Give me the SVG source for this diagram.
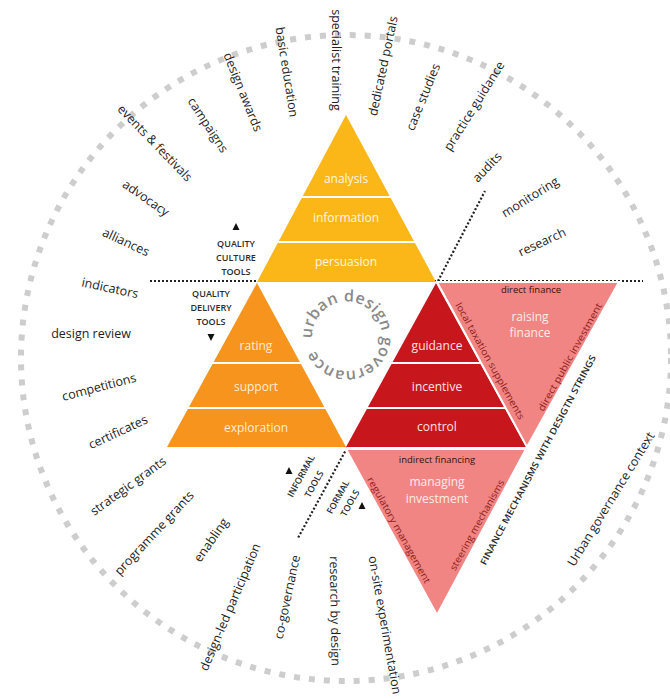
<svg xmlns="http://www.w3.org/2000/svg" width="670" height="699" viewBox="0 0 670 699">
<defs>
<style>
.lbl{font-family:"Open Sans","DejaVu Sans",sans-serif;font-size:12.5px;fill:#1e1e1e;text-anchor:middle;font-weight:500}
.band{font-family:"Open Sans","DejaVu Sans",sans-serif;font-size:12px;text-anchor:middle;font-weight:500}
.yb{fill:#fff6e0}
.ob{fill:#ffedd6}
.rb{fill:#fde2e2}
.pk{fill:#fdeceb;font-family:"Open Sans","DejaVu Sans",sans-serif;font-size:12px;text-anchor:middle;font-weight:500}
.small{font-family:"Open Sans","DejaVu Sans",sans-serif;font-size:9.5px;text-anchor:middle}
.edge{fill:#8e1c1c}
.dark{fill:#3a1010}
.caps{font-family:"Open Sans","DejaVu Sans",sans-serif;font-size:9px;font-weight:600;fill:#2b2b2b;text-anchor:middle}
.sep{stroke:#ffffff;stroke-width:2.2}
.dot{fill:none;stroke:#222;stroke-width:2.2;stroke-dasharray:2 2}
</style>
<path id="ring" d="M312.09,338.44 A35,35 0 0 1 381.91,333.56 A35,35 0 0 1 313.91,347.39"/>
</defs>
<rect width="670" height="699" fill="#ffffff"/>

<g id="context-circle">
<ellipse cx="346" cy="358" rx="325" ry="323" fill="none" stroke="#cdcdcd" stroke-width="6" stroke-dasharray="6 9"/>
</g>

<g id="connectors">
<line class="dot" x1="150" y1="281" x2="643" y2="281"/>
<line class="dot" x1="438" y1="281" x2="485" y2="191"/>
<line class="dot" x1="347" y1="448" x2="298" y2="538"/>
</g>

<g id="quality-culture">
<polygon points="346,115 257,282 436,282" fill="#fbb617"/>
<line class="sep" x1="300" y1="197" x2="392" y2="197"/>
<line class="sep" x1="276" y1="242" x2="416" y2="242"/>
<text class="band yb" x="346" y="183">analysis</text>
<text class="band yb" x="346" y="222">information</text>
<text class="band yb" x="346" y="266">persuasion</text>
</g>

<g id="quality-delivery">
<polygon points="257,283 167,447 346,447" fill="#f7941d"/>
<line class="sep" x1="211" y1="363" x2="302" y2="363"/>
<line class="sep" x1="186" y1="408" x2="327" y2="408"/>
<text class="band ob" x="256" y="350">rating</text>
<text class="band ob" x="256" y="391">support</text>
<text class="band ob" x="256" y="432">exploration</text>
</g>

<g id="formal-tools">
<polygon points="436,283 346,447 526,447" fill="#c8161d"/>
<line class="sep" x1="390" y1="363" x2="482" y2="363"/>
<line class="sep" x1="365" y1="408" x2="507" y2="408"/>
<text class="band rb" x="437" y="350">guidance</text>
<text class="band rb" x="437" y="391">incentive</text>
<text class="band rb" x="437" y="431">control</text>
</g>

<g id="raising-finance">
<polygon points="437,282 619,282 527,447" fill="#f08583" stroke="#ffffff" stroke-width="2"/>
<text class="small dark" x="531" y="293">direct finance</text>
<text class="pk" x="530" y="321">raising</text>
<text class="pk" x="530" y="337">finance</text>
<text class="small edge" transform="translate(490,361) rotate(61)" dy="0.35em" textLength="132" lengthAdjust="spacingAndGlyphs">local taxation supplements</text>
<text class="small edge" transform="translate(570,357) rotate(-61)" dy="0.35em" textLength="122" lengthAdjust="spacingAndGlyphs">direct public investment</text>
</g>

<g id="managing-investment">
<polygon points="346,449 526,449 437,615" fill="#f08583" stroke="#ffffff" stroke-width="2"/>
<text class="small dark" x="437" y="463">indirect financing</text>
<text class="pk" x="437" y="486">managing</text>
<text class="pk" x="437" y="503">investment</text>
<text class="small edge" transform="translate(399,530) rotate(61)" dy="0.35em" textLength="120" lengthAdjust="spacingAndGlyphs">regulatory management</text>
<text class="small edge" transform="translate(477,525) rotate(-61)" dy="0.35em" textLength="102" lengthAdjust="spacingAndGlyphs">steering mechanisms</text>
</g>

<g id="finance-mechanisms">
<text class="caps" font-weight="500" fill="#333" transform="translate(538,460) rotate(-62)" dy="0.35em" textLength="236" lengthAdjust="spacingAndGlyphs">FINANCE MECHANISMS WITH DESIGTN STRINGS</text>
</g>

<g id="governance-ring">
<text font-family="Open Sans, DejaVu Sans, sans-serif" font-size="16" fill="#8a8a8a" font-weight="600"><textPath href="#ring" textLength="206" lengthAdjust="spacing">urban design governance</textPath></text>
</g>

<g id="culture-tools-label">
<polygon points="236,223 232.5,230 239.5,230" fill="#111"/>
<text class="caps" x="236" y="247">QUALITY</text>
<text class="caps" x="236" y="261">CULTURE</text>
<text class="caps" x="236" y="275">TOOLS</text>
</g>

<g id="delivery-tools-label">
<text class="caps" x="211" y="297">QUALITY</text>
<text class="caps" x="211" y="311">DELIVERY</text>
<text class="caps" x="211" y="325">TOOLS</text>
<polygon points="207.5,334 214.5,334 211,341" fill="#111"/>
</g>

<g id="informal-tools-label">
<polygon points="289,467 285.5,474 292.5,474" fill="#111"/>
<text class="caps" font-size="8" transform="translate(301,476) rotate(-61)" dy="0.35em">INFORMAL</text>
<text class="caps" font-size="8" transform="translate(314,484) rotate(-61)" dy="0.35em">TOOLS</text>
</g>

<g id="formal-tools-label">
<text class="caps" font-size="8" transform="translate(338,497) rotate(-61)" dy="0.35em">FORMAL</text>
<text class="caps" font-size="8" transform="translate(350,503) rotate(-61)" dy="0.35em">TOOLS</text>
<polygon points="362,502 358.5,509 365.5,509" fill="#111"/>
</g>

<g id="outer-labels">
<text class="lbl" transform="translate(336,60) rotate(90)" dy="0.35em">specialist training</text>
<text class="lbl" transform="translate(287,72) rotate(81)" dy="0.35em">basic education</text>
<text class="lbl" transform="translate(243,92) rotate(68)" dy="0.35em">design awards</text>
<text class="lbl" transform="translate(208,125) rotate(57)" dy="0.35em">campaigns</text>
<text class="lbl" transform="translate(155,143) rotate(46)" dy="0.35em">events &amp; festivals</text>
<text class="lbl" transform="translate(146,198) rotate(35)" dy="0.35em">advocacy</text>
<text class="lbl" transform="translate(126,242) rotate(25)" dy="0.35em">alliances</text>
<text class="lbl" transform="translate(110,288) rotate(12)" dy="0.35em">indicators</text>
<text class="lbl" font-weight="600" transform="translate(91,334)" dy="0.35em">design review</text>
<text class="lbl" transform="translate(99,387) rotate(-15)" dy="0.35em">competitions</text>
<text class="lbl" transform="translate(118,432) rotate(-25)" dy="0.35em">certificates</text>
<text class="lbl" transform="translate(128,486) rotate(-36)" dy="0.35em">strategic grants</text>
<text class="lbl" transform="translate(154,533) rotate(-47)" dy="0.35em">programme grants</text>
<text class="lbl" transform="translate(211,540) rotate(-55)" dy="0.35em">enabling</text>
<text class="lbl" transform="translate(230,607) rotate(-67)" dy="0.35em">design-led participation</text>
<text class="lbl" transform="translate(287,597) rotate(-78)" dy="0.35em">co-governance</text>
<text class="lbl" transform="translate(335,611) rotate(89)" dy="0.35em">research by design</text>
<text class="lbl" transform="translate(385,625) rotate(80)" dy="0.35em">on-site experimentation</text>
<text class="lbl" transform="translate(383,66) rotate(-78)" dy="0.35em">dedicated portals</text>
<text class="lbl" transform="translate(423,97) rotate(-68)" dy="0.35em">case studies</text>
<text class="lbl" transform="translate(474,106) rotate(-58)" dy="0.35em">practice guidance</text>
<text class="lbl" transform="translate(487,167) rotate(-46)" dy="0.35em">audits</text>
<text class="lbl" transform="translate(530,197) rotate(-32)" dy="0.35em">monitoring</text>
<text class="lbl" transform="translate(542,242) rotate(-25)" dy="0.35em">research</text>
<text class="lbl" font-size="15" transform="translate(611,499) rotate(-58.5)" dy="0.35em">Urban governance context</text>
</g>
</svg>
